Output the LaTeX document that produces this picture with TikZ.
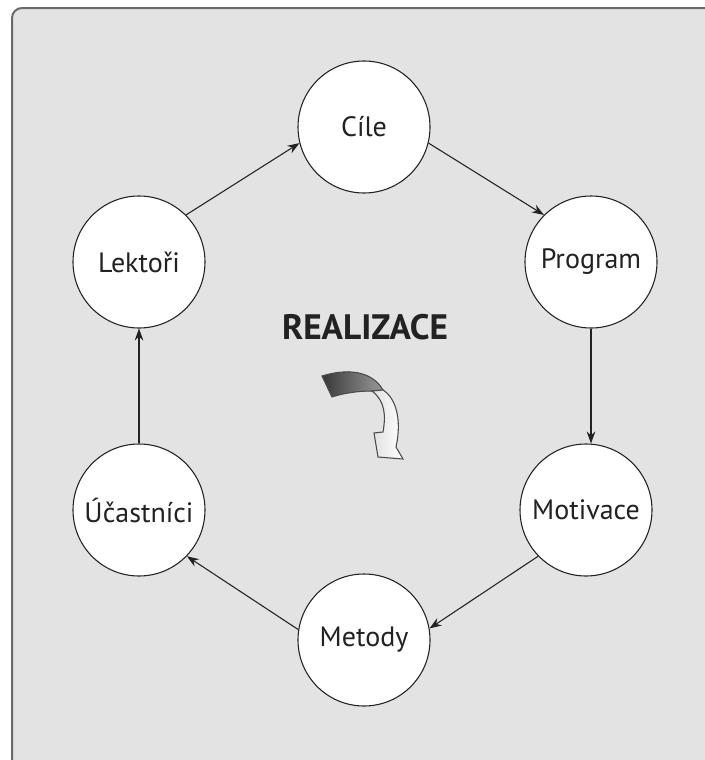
\documentclass[tikz,border=0pt]{standalone}
\usepackage{fontspec}
\setmainfont{PT Sans}
\usetikzlibrary{arrows.meta}
\newcommand{\Radius}{49.5pt}
\definecolor{Panel}{HTML}{E3E3E3}
\definecolor{Rim}{HTML}{6A6A6A}
\definecolor{Ink}{HTML}{222222}
\tikzset{Stage/.style={
    circle,
    inner sep=0pt,
    minimum size=2*\Radius,
    line width=0.8pt,
    draw=Ink,
    fill=white,
    text=Ink,
    font={\fontsize{21pt}{24}\selectfont}
    },
    Flow/.style={
    -{Stealth[length=9pt,width=6.5pt]},
    line width=0.8pt,
    draw=Ink
    }
}

\begin{document}
\begin{tikzpicture}[x=0.75pt,y=-0.75pt]
\useasboundingbox (0,0) rectangle (705,760);
% frame, cut off at right and bottom
\begin{scope}
\clip (0,0) rectangle (705,760);
\draw[fill=Panel, draw=Rim, line width=1.5pt, rounded corners=7.5pt] (12,8) rectangle (740,800);
\end{scope}
% the six stages
\foreach \name/\x/\y/\text in {Cile/364/127/Cíle, Program/591/262/Program, Motivace/586/510/Motivace,
    Metody/364/640/Metody, Ucastnici/139/510/Účastníci, Lektori/139/262/Lektoři} {
\node [Stage] (\name) at (\x,\y) {\text};
}
% connectors
\foreach \from/\to in {Lektori.45/Cile.194, Cile.346/Program.135, Motivace.224/Metody.10, Metody.171/Ucastnici.316} {
\draw [Flow] (\from) -- (\to);
}
\draw [Flow] (Program.south) -- (Program.south |- Motivace.north);
\draw [Flow] (Ucastnici.north) -- (Lektori.south);
% title
\node [text=Ink, font={\bfseries\fontsize{26.5pt}{30}\selectfont}] (Title) at (365,327) {REALIZACE};
% bent arrow
\filldraw [draw=black!70, line width=0.8pt, left color=black!78, right color=black!40]
    (322,376) .. controls (348,368) and (372,371) .. (383,390)
    -- (372,391) .. controls (358,391) and (344,393) .. (332,397) -- cycle;
\filldraw [draw=black!70, line width=0.8pt, left color=black!12, right color=white]
    (383,390) .. controls (396,398) and (402,420) .. (396,447)
    -- (403,459) -- (378,457) -- (374,433) -- (383,432)
    .. controls (386,415) and (385,401) .. (372,391) -- cycle;
\end{tikzpicture}
\end{document}
